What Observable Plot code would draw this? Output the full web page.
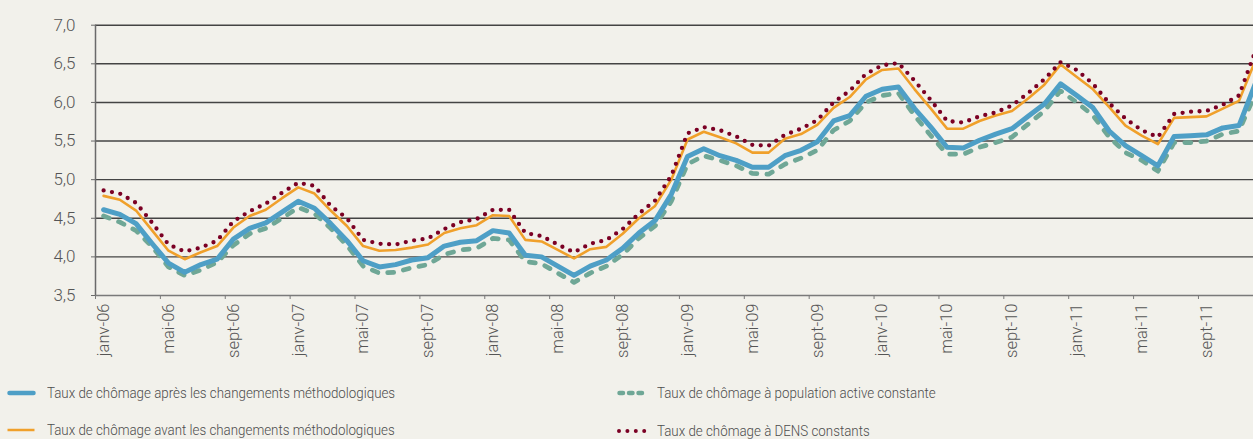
<!DOCTYPE html>
<html>
<head>
<meta charset="utf-8">
<script src="https://cdn.jsdelivr.net/npm/d3@7"></script>
<script src="https://cdn.jsdelivr.net/npm/@observablehq/plot@0.6"></script>
<style>
  html, body { margin: 0; padding: 0; background: #f2f1eb; overflow: hidden; }
  #wrap { position: relative; width: 1253px; height: 439px; background: #f2f1eb; font-family: Roboto, "Open Sans", sans-serif; font-weight: 300; color: #555; }
  #chart svg { display: block; background: #f2f1eb !important; }
  .lg { position: absolute; display: flex; align-items: center; font-size: 15.5px; font-weight: 350; color: #4d4d4d; white-space: nowrap; }
  .lg svg { margin-right: 11px; }
  .lg span { display: inline-block; transform: scaleX(0.86); transform-origin: left center; }
</style>
</head>
<body>
<div id="wrap">
  <div id="chart"></div>
  <div id="legend"></div>
</div>
<script>
// ---- Data (monthly, janv-06 .. déc-11) ----
const monthNames = ["janv","févr","mars","avr","mai","juin","juil","août","sept","oct","nov","déc"];
const years = ["06","07","08","09","10","11"];

const apres = [4.61,4.55,4.43,4.17,3.92,3.80,3.90,3.97,4.23,4.37,4.44,4.58,
               4.72,4.63,4.43,4.21,3.95,3.87,3.90,3.96,3.99,4.14,4.19,4.21,
               4.34,4.31,4.02,4.00,3.88,3.76,3.88,3.96,4.11,4.31,4.47,4.81,
               5.30,5.40,5.31,5.25,5.16,5.16,5.31,5.38,5.49,5.76,5.83,6.08,
               6.17,6.20,5.92,5.68,5.42,5.41,5.51,5.59,5.66,5.82,5.98,6.24,
               6.09,5.93,5.63,5.44,5.31,5.18,5.56,5.57,5.58,5.67,5.70,6.24];
const avant = [4.79,4.74,4.60,4.34,4.08,3.97,4.06,4.14,4.38,4.53,4.61,4.76,
               4.90,4.82,4.60,4.40,4.14,4.08,4.09,4.12,4.16,4.31,4.37,4.41,
               4.54,4.53,4.22,4.20,4.09,3.98,4.10,4.13,4.30,4.50,4.66,5.00,
               5.52,5.62,5.55,5.47,5.35,5.35,5.53,5.59,5.71,5.93,6.07,6.30,
               6.42,6.44,6.17,5.92,5.66,5.66,5.76,5.83,5.89,6.05,6.23,6.49,
               6.33,6.17,5.94,5.70,5.57,5.46,5.80,5.81,5.82,5.92,6.02,6.54];
const popActive = [4.53,4.45,4.34,4.13,3.87,3.76,3.83,3.93,4.15,4.30,4.37,4.50,
               4.64,4.56,4.37,4.15,3.88,3.79,3.80,3.86,3.90,4.03,4.09,4.11,
               4.24,4.22,3.94,3.91,3.79,3.67,3.79,3.88,4.03,4.24,4.40,4.72,
               5.20,5.31,5.25,5.18,5.08,5.07,5.20,5.28,5.38,5.64,5.76,6.00,
               6.09,6.12,5.83,5.57,5.33,5.33,5.42,5.48,5.55,5.72,5.89,6.15,
               6.00,5.83,5.55,5.35,5.25,5.11,5.48,5.48,5.50,5.59,5.63,6.11];
const dens = [4.86,4.82,4.70,4.44,4.16,4.07,4.12,4.21,4.46,4.59,4.69,4.83,
               4.96,4.92,4.66,4.50,4.22,4.17,4.16,4.21,4.24,4.36,4.45,4.49,
               4.61,4.61,4.31,4.27,4.16,4.06,4.17,4.22,4.36,4.56,4.73,5.05,
               5.60,5.68,5.64,5.56,5.45,5.44,5.58,5.66,5.77,6.00,6.15,6.37,
               6.48,6.51,6.28,6.03,5.76,5.74,5.82,5.87,5.96,6.12,6.30,6.52,
               6.42,6.24,5.99,5.79,5.64,5.55,5.85,5.88,5.89,5.97,6.09,6.66];

const yTicks = [3.5,4.0,4.5,5.0,5.5,6.0,6.5,7.0];
const tickLabels = ["janv-06","mai-06","sept-06","janv-07","mai-07","sept-07",
                    "janv-08","mai-08","sept-08","janv-09","mai-09","sept-09",
                    "janv-10","mai-10","sept-10","janv-11","mai-11","sept-11"];

const seriesNames = [
  "Taux de chômage après les changements méthodologiques",
  "Taux de chômage avant les changements méthodologiques",
  "Taux de chômage à population active constante",
  "Taux de chômage à DENS constants"
];
const colors = { apres: "#4e9fc6", avant: "#f0a02b", pop: "#6fa796", dens: "#7b0024" };

// ---- Build table ----
const months = years.flatMap(y => monthNames.map(m => `${m}-${y}`));
const toRows = arr => arr.map((v, i) => ({ i: i + 0.5, month: months[i], v }));
const tickPos = tickLabels.map(l => months.indexOf(l));

const pxPerMonth = 16.22;
const chart = Plot.plot({
  width: 1253,
  height: 370,
  marginLeft: 95,
  marginRight: 0,
  marginTop: 24.7,
  marginBottom: 75,
  style: { background: "#f2f1eb", fontFamily: "Roboto, sans-serif", color: "#555", overflow: "hidden" },
  x: { type: "linear", domain: [0, 72], range: [95, 95 + 72 * pxPerMonth] },
  y: { domain: [3.5, 7.0], range: [295, 24.7] },
  marks: [
    Plot.ruleY(yTicks.filter(d => d > 3.5), { stroke: "#444", strokeWidth: 1.4 }),
    Plot.ruleY([3.5], { stroke: "#7a7a7a", strokeWidth: 1.6 }),
    Plot.ruleX([0], { stroke: "#6a6a6a", strokeWidth: 1.5 }),
    Plot.axisY({ ticks: yTicks, tickSize: 4, tickPadding: 16, stroke: "#6a6a6a", label: null,
      tickFormat: d => d.toFixed(1).replace(".", ","), fontSize: 17, fontWeight: 300, fill: "#555" }),
    Plot.axisX({ ticks: tickPos, tickSize: 4, stroke: "#7a7a7a", tickFormat: () => "", label: null }),
    Plot.axisX({ ticks: tickPos.map(p => p + 0.5), tickSize: 0, tickPadding: 8, tickRotate: -90, label: null,
      tickFormat: d => months[Math.round(d - 0.5)], fontSize: 16.5, fontWeight: 300, fill: "#555" }),
    Plot.line(toRows(popActive), { x: "i", y: "v", stroke: colors.pop, strokeWidth: 4.7,
      strokeDasharray: "6 10", strokeLinecap: "round", strokeLinejoin: "round" }),
    Plot.line(toRows(apres), { x: "i", y: "v", stroke: colors.apres, strokeWidth: 5,
      strokeLinejoin: "round" }),
    Plot.line(toRows(avant), { x: "i", y: "v", stroke: colors.avant, strokeWidth: 2.6,
      strokeLinejoin: "round" }),
    Plot.line(toRows(dens), { x: "i", y: "v", stroke: colors.dens, strokeWidth: 4.3,
      strokeDasharray: "0 8.5", strokeLinecap: "round", strokeLinejoin: "round" })
  ]
});
document.getElementById("chart").appendChild(chart);

// ---- Legend ----
const legendItems = [
  { name: seriesNames[0], left: 7, top: 393, sw: `<line x1="2.5" y1="5" x2="26.5" y2="5" stroke="${colors.apres}" stroke-width="4.5" stroke-linecap="round"/>` },
  { name: seriesNames[1], left: 7, top: 430, sw: `<line x1="0.5" y1="5" x2="27.5" y2="5" stroke="${colors.avant}" stroke-width="2.5"/>` },
  { name: seriesNames[2], left: 617, top: 393, sw: `<line x1="2.5" y1="5" x2="27" y2="5" stroke="${colors.pop}" stroke-width="4.5" stroke-linecap="round" stroke-dasharray="3.5 6"/>` },
  { name: seriesNames[3], left: 617, top: 431, sw: `<line x1="2" y1="5" x2="28" y2="5" stroke="${colors.dens}" stroke-width="4" stroke-linecap="round" stroke-dasharray="0 8.4"/>` }
];
const lg = document.getElementById("legend");
legendItems.forEach(it => {
  const d = document.createElement("div");
  d.className = "lg";
  d.style.left = it.left + "px";
  d.style.top = (it.top - 10) + "px";
  d.style.height = "20px";
  d.innerHTML = `<svg width="29" height="10" style="overflow:visible">${it.sw}</svg><span>${it.name}</span>`;
  lg.appendChild(d);
});
</script>
</body>
</html>
